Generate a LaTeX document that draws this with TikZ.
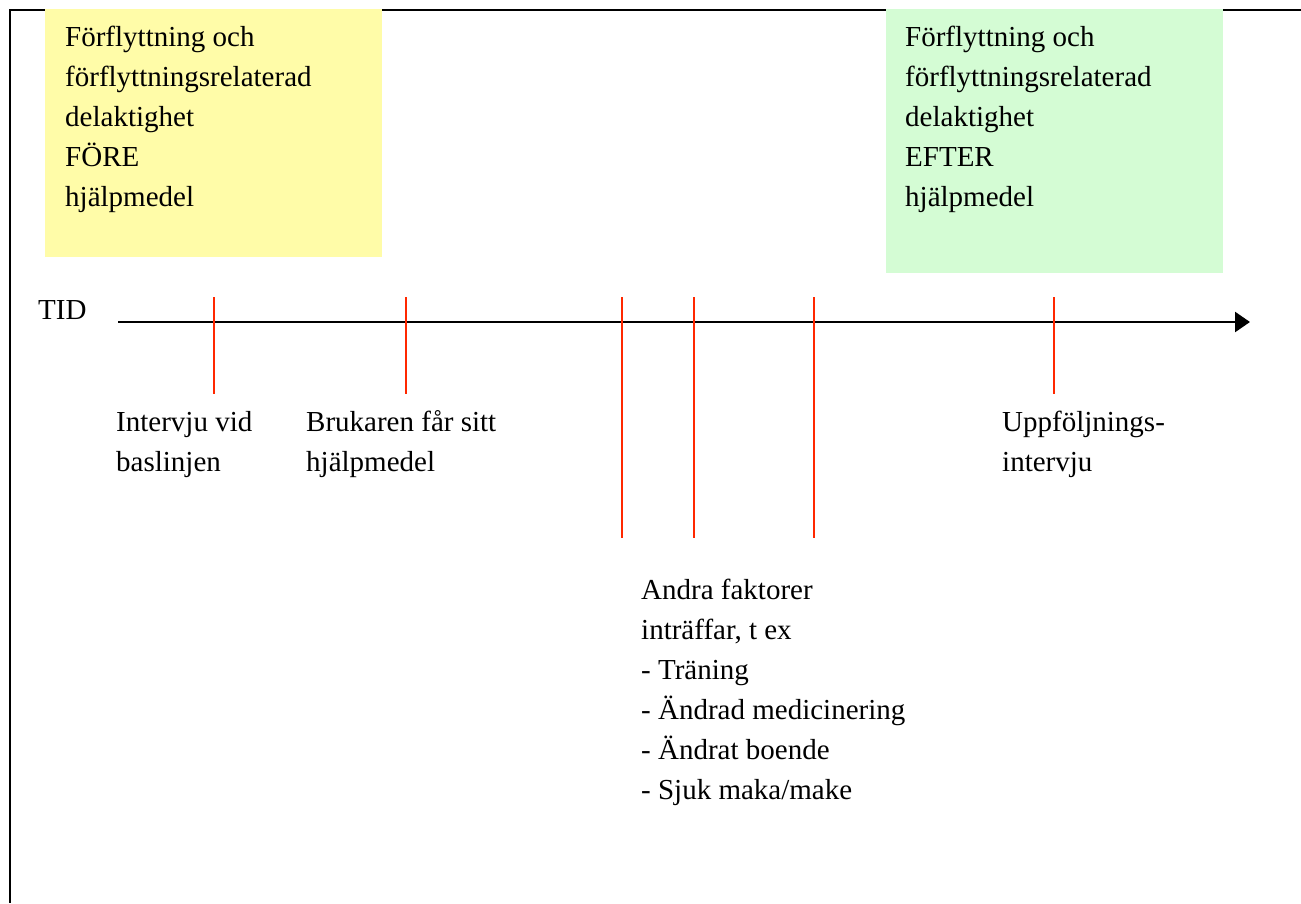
\documentclass[tikz,border=0pt]{standalone}
\usepackage{fontspec}
\setmainfont{Liberation Serif}
\usetikzlibrary{arrows.meta}
\definecolor{boxyellow}{RGB}{255,252,168}
\definecolor{boxgreen}{RGB}{212,252,212}
\definecolor{tickred}{RGB}{255,40,0}
\begin{document}
\begin{tikzpicture}[x=1pt,y=-1pt,
  txt/.style={font=\fontsize{29}{40}\selectfont, align=left, inner sep=0pt, anchor=base west},
  panel/.style={anchor=north west, inner sep=0pt, draw=none},
  frame/.style={line width=2.5pt, black},
  tickline/.style={line width=1.5pt, tickred},
  axis/.style={line width=2.5pt, black, -{Triangle[length=15pt,width=20pt]}}]
\useasboundingbox (0,0) rectangle (1301,903);
% frame
\coordinate (fr) at (1301,10);
\coordinate (fc) at (10,10);
\coordinate (fb) at (10,903);
\draw[frame] (fr) -- (fc) -- (fb);
% panels
\node[panel, fill=boxyellow, minimum width=337, minimum height=248] (before) at (45,9) {};
\node[panel, fill=boxgreen, minimum width=337, minimum height=264] (after) at (886,9) {};
% multi-line texts: anchored at the baseline of their last line
\node[txt] (beforetxt) at (65,206) {Förflyttning och\\förflyttningsrelaterad\\delaktighet\\FÖRE\\hjälpmedel};
\node[txt] (aftertxt) at (905,206) {Förflyttning och\\förflyttningsrelaterad\\delaktighet\\EFTER\\hjälpmedel};
% axis
\node[txt] (tid) at (38,319) {TID};
\coordinate (axstart) at (118,322);
\coordinate (axend) at (1250,322);
\draw[axis] (axstart) -- (axend);
% ticks
\foreach \n/\x/\yb in {a/214/394, b/406/394, c/622/538, d/694/538, e/814/538, f/1054/394}{
  \coordinate (t\n top) at (\x,297);
  \coordinate (t\n bot) at (\x,\yb);
  \draw[tickline] (t\n top) -- (t\n bot);
}
% labels
\node[txt] (lbase) at (116,471) {Intervju vid\\baslinjen};
\node[txt] (laid) at (306,471) {Brukaren får sitt\\hjälpmedel};
\node[txt] (lfollow) at (1002,471) {Uppföljnings-\\intervju};
\node[txt] (lother) at (641,799) {Andra faktorer\\inträffar, t ex\\- Träning\\- Ändrad medicinering\\- Ändrat boende\\- Sjuk maka/make};
\end{tikzpicture}
\end{document}
